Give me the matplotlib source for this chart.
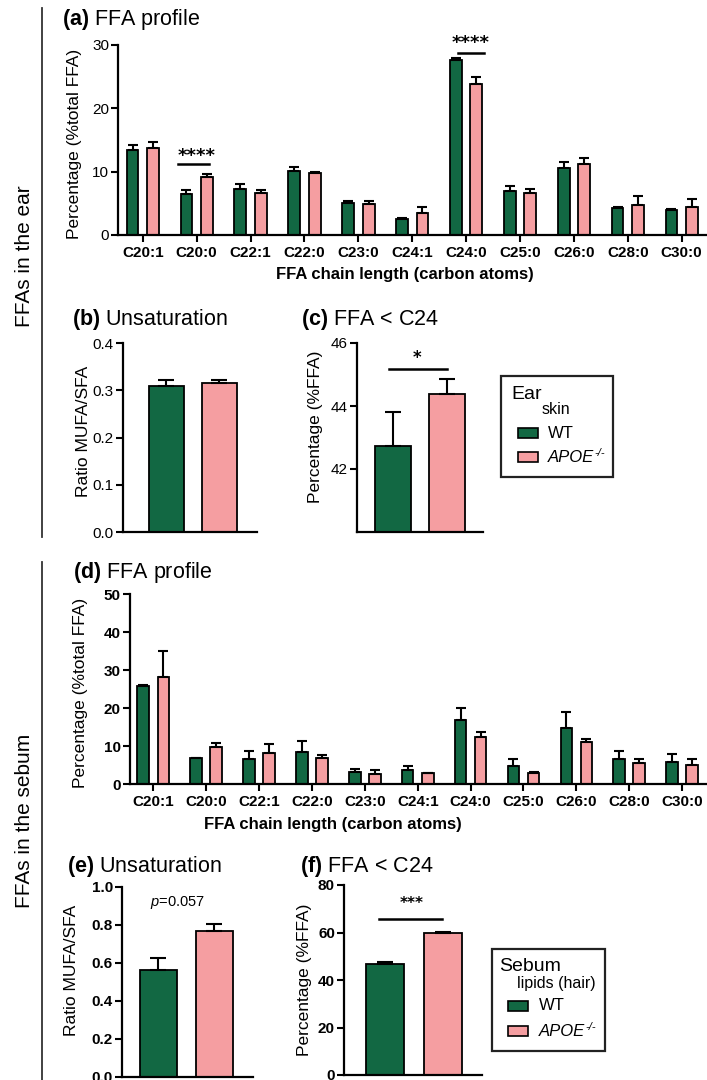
import matplotlib
matplotlib.use('Agg')
import matplotlib.pyplot as plt
from matplotlib.patches import Rectangle
from matplotlib.lines import Line2D
import numpy as np

# chain lengths shared by both FFA profiles
chains = ['C20:1', 'C20:0', 'C22:1', 'C22:0', 'C23:0', 'C24:1',
          'C24:0', 'C25:0', 'C26:0', 'C28:0', 'C30:0']

# (a) ear profile, % total FFA (mean, SEM)
ear_wt = [13.45, 6.5, 7.25, 10.1, 5.1, 2.6, 27.6, 7.0, 10.6, 4.3, 4.0]
ear_wt_sem = [0.75, 0.6, 0.75, 0.7, 0.3, 0.15, 0.4, 0.7, 0.9, 0.2, 0.1]
ear_ko = [13.7, 9.2, 6.6, 9.85, 4.9, 3.5, 23.8, 6.7, 11.25, 4.7, 4.4]
ear_ko_sem = [1.0, 0.5, 0.55, 0.15, 0.4, 0.9, 1.1, 0.5, 0.95, 1.4, 1.3]

# (d) sebum profile
seb_wt = [25.9, 6.8, 6.7, 8.3, 3.1, 3.6, 16.8, 4.8, 14.8, 6.5, 5.8]
seb_wt_sem = [0.1, 0.1, 1.9, 3.0, 0.8, 1.1, 3.1, 1.7, 4.1, 2.2, 2.0]
seb_ko = [28.2, 9.8, 8.2, 6.75, 2.6, 2.8, 12.4, 2.9, 11.1, 5.4, 5.0]
seb_ko_sem = [6.8, 1.1, 2.2, 0.85, 1.1, 0.2, 1.4, 0.3, 0.8, 1.1, 1.5]

# summary panels: [WT, APOE-/-]
ear_unsat = [0.308, 0.315]
ear_unsat_sem = [0.014, 0.007]
ear_lt24 = [42.72, 44.39]
ear_lt24_sem = [1.08, 0.46]
seb_unsat = [0.565, 0.768]
seb_unsat_sem = [0.063, 0.037]
seb_lt24 = [46.9, 59.7]
seb_lt24_sem = [0.6, 0.4]

GREEN = '#126843'
PINK = '#f59ea1'
W, H = 707, 1080

plt.rcParams['font.family'] = ['Liberation Sans', 'DejaVu Sans']
plt.rcParams['mathtext.fontset'] = 'custom'
plt.rcParams['mathtext.rm'] = 'Liberation Sans'
plt.rcParams['mathtext.it'] = 'Liberation Sans:italic'
plt.rcParams['mathtext.bf'] = 'Liberation Sans:bold'
NARROW = ['Liberation Sans Narrow', 'Liberation Sans']

fig = plt.figure(figsize=(W / 100, H / 100), dpi=100)


def fx(px):
    return px / W


def fy(py):
    return 1 - py / H


def px_axes(left, right, top, bottom):
    return fig.add_axes([fx(left), fy(bottom), (right - left) / W, (bottom - top) / H])


def style(ax, bold_ticks=False):
    for s in ['top', 'right']:
        ax.spines[s].set_visible(False)
    for s in ['left', 'bottom']:
        ax.spines[s].set_linewidth(1.6)
    ax.tick_params(width=1.5, length=5, pad=1.5)
    for lab in ax.get_yticklabels():
        lab.set_family(NARROW)
        lab.set_fontsize(11)
        if bold_ticks:
            lab.set_fontweight('bold')


def bars(ax, x, vals, sem, color, width, cap):
    ax.bar(x, vals, width, color=color, edgecolor='black', linewidth=1.3,
           yerr=[np.zeros(len(vals)), sem], capsize=cap,
           error_kw=dict(elinewidth=1.5, capthick=1.5, ecolor='black'))


def profile(ax, wt, wt_sem, ko, ko_sem, ymax, step, left, bold_ticks):
    x = np.arange(len(chains))
    bars(ax, x - 0.19, wt, wt_sem, GREEN, 0.22, 3.5)
    bars(ax, x + 0.19, ko, ko_sem, PINK, 0.22, 3.5)
    ax.set_xlim(left, 10.47)
    ax.set_ylim(0, ymax)
    ax.set_yticks(np.arange(0, ymax + 1, step))
    ax.set_xticks(x, chains)
    style(ax, bold_ticks)
    ax.tick_params(axis='x', pad=3)
    for lab in ax.get_xticklabels():
        lab.set_family(NARROW)
        lab.set_fontweight('bold')
        lab.set_fontsize(11)


def pair(ax, vals, sem, xlim, ylim, ticks, fmt, bold_ticks):
    bars(ax, [0], vals[:1], sem[:1], GREEN, 0.66, 5.5)
    bars(ax, [1], vals[1:], sem[1:], PINK, 0.66, 5.5)
    ax.set_xlim(*xlim)
    ax.set_ylim(*ylim)
    ax.set_xticks([])
    ax.set_yticks(ticks)
    ax.set_yticklabels([fmt % t for t in ticks])
    style(ax, bold_ticks)


def ylab(ax, text, right_px, left_px, width_px, ypos=0.5):
    ax.set_ylabel(text, fontsize=12.5)
    ax.yaxis.set_label_coords((right_px - left_px) / width_px, ypos)


def key(l, r, t, b, title, tx, ty, sub, sx, sy, px, pys, lx):
    fig.add_artist(Rectangle((fx(l), fy(b)), (r - l) / W, (b - t) / H,
                             transform=fig.transFigure, fill=False,
                             edgecolor='#222222', linewidth=1.6))
    fig.text(fx(tx), fy(ty), title, fontsize=14, va='baseline')
    fig.text(fx(sx), fy(sy), sub, fontsize=11.5, va='baseline')
    for py, c in zip(pys, [GREEN, PINK]):
        fig.add_artist(Rectangle((fx(px), fy(py + 5)), 20 / W, 10 / H,
                                 transform=fig.transFigure, facecolor=c,
                                 edgecolor='black', linewidth=1.2))
    fig.text(fx(lx), fy(pys[0]), 'WT', fontsize=12, va='center')
    apoe = fig.text(fx(lx), fy(pys[1]), 'APOE', fontsize=12, va='center', style='italic')
    fig.text(0, 0, '-/-', fontsize=8, style='italic', va='top', ha='left',
             transform=matplotlib.transforms.offset_copy(
                 fig.transFigure, fig=fig, x=0, y=0, units='dots'),
             position=(fx(lx + 46), fy(pys[1] - 9)))


# ---------------- ear ----------------
ax_a = px_axes(118, 707, 45, 235)
profile(ax_a, ear_wt, ear_wt_sem, ear_ko, ear_ko_sem, 30, 10, -0.46, False)
ylab(ax_a, 'Percentage (%total FFA)', 82, 118, 589, 0.48)
ax_a.plot([0.66, 1.23], [11.2, 11.2], color='black', lw=1.8, clip_on=False)
ax_a.text(1.0, 12.4, '****', ha='center', va='center', fontsize=13,
          fontweight='bold', family='DejaVu Sans')
ax_a.plot([5.85, 6.33], [28.7, 28.7], color='black', lw=1.8, clip_on=False)
ax_a.text(6.09, 30.3, '****', ha='center', va='center', fontsize=13,
          fontweight='bold', family='DejaVu Sans', clip_on=False)
fig.text(fx(405), fy(275), 'FFA chain length (carbon atoms)', ha='center', va='center',
         fontsize=12, fontweight='bold', family=NARROW)

ax_b = px_axes(123, 257, 343, 532)
pair(ax_b, ear_unsat, ear_unsat_sem, (-0.82, 1.71), (0, 0.4),
     [0, 0.1, 0.2, 0.3, 0.4], '%.1f', False)
ylab(ax_b, 'Ratio MUFA/SFA', 91, 123, 134, 0.534)

ax_c = px_axes(357, 483, 343, 532)
pair(ax_c, ear_lt24, ear_lt24_sem, (-0.67, 1.67), (40, 46),
     [42, 44, 46], '%d', False)
ylab(ax_c, 'Percentage (%FFA)', 323, 357, 126, 0.555)
ax_c.plot([-0.07, 1.0], [45.17, 45.17], color='black', lw=1.8, clip_on=False)
ax_c.text(0.44, 45.52, '*', ha='center', va='center', fontsize=12,
          fontweight='bold', family='DejaVu Sans')

# ---------------- sebum ----------------
ax_d = px_axes(130, 707, 594, 784)
profile(ax_d, seb_wt, seb_wt_sem, seb_ko, seb_ko_sem, 50, 10, -0.44, True)
ylab(ax_d, 'Percentage (%total FFA)', 88, 130, 577, 0.48)
fig.text(fx(333), fy(825), 'FFA chain length (carbon atoms)', ha='center', va='center',
         fontsize=12, fontweight='bold', family=NARROW)

ax_e = px_axes(122, 253, 887, 1077)
pair(ax_e, seb_unsat, seb_unsat_sem, (-0.65, 1.69), (0, 1.0),
     [0, 0.2, 0.4, 0.6, 0.8, 1.0], '%.1f', True)
ylab(ax_e, 'Ratio MUFA/SFA', 79, 122, 131, 0.563)
ax_e.text(0.33, 0.92, r'$\mathit{p}$=0.057', ha='center', va='center',
          fontsize=10.5, family=NARROW)

ax_f = px_axes(344, 482, 885, 1075)
pair(ax_f, seb_lt24, seb_lt24_sem, (-0.72, 1.68), (0, 80),
     [0, 20, 40, 60, 80], '%d', True)
ylab(ax_f, 'Percentage (%FFA)', 312, 344, 138, 0.5)
ax_f.plot([-0.11, 0.98], [65.7, 65.7], color='black', lw=1.8, clip_on=False)
ax_f.text(0.46, 72.4, '***', ha='center', va='center', fontsize=11,
          fontweight='bold', family='DejaVu Sans')

# ---------------- panel titles ----------------
for px, py, t in [(62, 25, r'$\mathbf{(a)}$ FFA profile'),
                  (72, 325, r'$\mathbf{(b)}$ Unsaturation'),
                  (301, 325, r'$\mathbf{(c)}$ FFA < C24'),
                  (73, 578, r'$\mathbf{(d)}$ FFA profile'),
                  (67, 872, r'$\mathbf{(e)}$ Unsaturation'),
                  (300, 872, r'$\mathbf{(f)}$ FFA < C24')]:
    fig.text(fx(px), fy(py), t, fontsize=15.5, va='baseline')

# ---------------- keys ----------------
key(501, 613, 376, 477, 'Ear', 511, 399, 'skin', 542, 414, 518, [433, 457], 548)
key(492, 605, 949, 1051, 'Sebum', 499, 971, 'lipids (hair)', 517, 988, 508, [1006, 1031], 539)

# ---------------- side labels ----------------
fig.add_artist(Line2D([fx(42), fx(42)], [fy(8), fy(537)], color='#333333', lw=1.3))
fig.add_artist(Line2D([fx(42), fx(42)], [fy(562), fy(1080)], color='#333333', lw=1.3))
fig.text(fx(25), fy(256), 'FFAs in the ear', rotation=90, ha='center', va='center', fontsize=15)
fig.text(fx(25), fy(821), 'FFAs in the sebum', rotation=90, ha='center', va='center', fontsize=15)

fig.savefig('out.png', dpi=100)
